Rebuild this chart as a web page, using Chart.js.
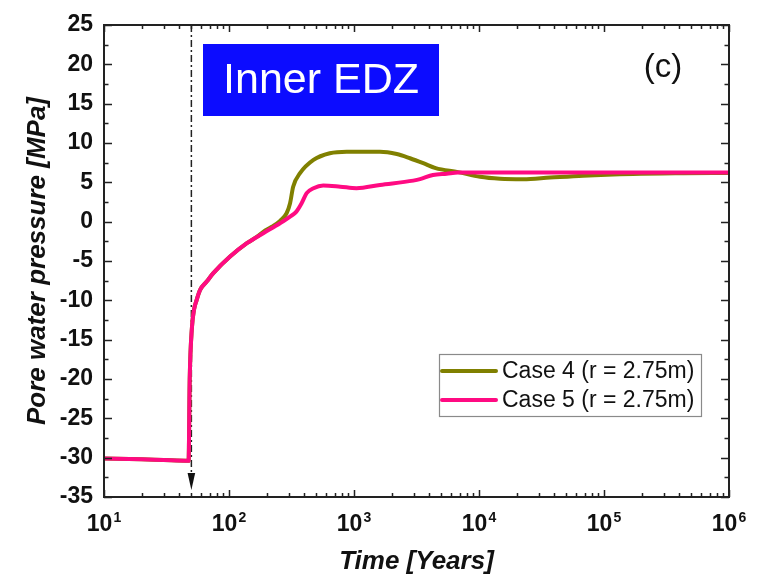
<!DOCTYPE html>
<html>
<head>
<meta charset="utf-8">
<script src="https://cdn.jsdelivr.net/npm/chart.js@4"></script>
<style>
html,body{margin:0;padding:0;background:#fff;}
#wrap{width:774px;height:580px;}
</style>
</head>
<body>
<div id="wrap"><canvas id="c" width="774" height="580"></canvas></div>
<script>
// ---- data ----
const seriesLabels = ['Case 4 (r = 2.75m)', 'Case 5 (r = 2.75m)'];
const case4Time = [10, 20, 30, 47.5, 48.5, 50.5, 52.5, 55, 58.6, 66.3, 74.9, 102, 139, 170, 188, 220, 256, 289, 308, 326, 370, 474, 640, 874, 1614, 2200, 2805, 3581, 4500, 6800, 10190, 14723, 22570, 37000, 68200, 170600, 430000, 1000000];
const case4Pressure = [-30.1, -30.2, -30.3, -30.4, -20, -13.5, -11.2, -10, -8.7, -7.62, -6.55, -4.44, -2.74, -1.85, -1.3, -0.65, 0.1, 1.07, 2.34, 4.45, 6.16, 7.85, 8.7, 8.9, 8.9, 8.6, 8.06, 7.43, 6.8, 6.3, 5.7, 5.45, 5.39, 5.6, 5.85, 6.07, 6.16, 6.2];
const case5Time = [10, 20, 30, 47.5, 48.5, 50.5, 52.5, 55, 58.6, 66.3, 74.9, 102, 139, 188, 256, 308, 346, 381, 418, 474, 567, 776, 1047, 1614, 2978, 3373, 4285, 5515, 6800, 10190, 30000, 100000, 1000000];
const case5Pressure = [-30.1, -30.2, -30.3, -30.4, -20, -13.5, -11.2, -10, -8.7, -7.62, -6.55, -4.44, -2.74, -1.47, -0.2, 0.64, 1.28, 2.34, 3.62, 4.25, 4.6, 4.45, 4.25, 4.67, 5.22, 5.4, 5.94, 6.1, 6.24, 6.24, 6.24, 6.24, 6.24];
const yTickValues = [-35, -30, -25, -20, -15, -10, -5, 0, 5, 10, 15, 20, 25];
const xDecadeExponents = [1, 2, 3, 4, 5, 6];
const excavationTime = 50;
const panelLabel = '(c)';
const zoneLabel = 'Inner EDZ';

const FONT = "'Liberation Sans', Arial, sans-serif";
const colors = ['#808000', '#ff0a82'];

function pts(t, v) { return t.map((x, i) => ({x: x, y: v[i]})); }

const decorPlugin = {
  id: 'decor',
  beforeDatasetsDraw(chart) {
    const ctx = chart.ctx, a = chart.chartArea, xs = chart.scales.x;
    const px = xs.getPixelForValue(excavationTime);
    ctx.save();
    ctx.strokeStyle = '#222';
    ctx.lineWidth = 1.5;
    ctx.setLineDash([7, 3, 2, 3]);
    ctx.beginPath();
    ctx.moveTo(px, a.top);
    ctx.lineTo(px, a.bottom - 20);
    ctx.stroke();
    ctx.setLineDash([]);
    ctx.fillStyle = '#111';
    ctx.beginPath();
    ctx.moveTo(px - 3.8, a.bottom - 24);
    ctx.lineTo(px + 3.8, a.bottom - 24);
    ctx.lineTo(px, a.bottom - 7);
    ctx.closePath();
    ctx.fill();
    ctx.restore();
  },
  afterDraw(chart) {
    const ctx = chart.ctx, a = chart.chartArea, xs = chart.scales.x, ys = chart.scales.y;
    ctx.save();
    // frame
    ctx.strokeStyle = '#222';
    ctx.lineWidth = 2;
    ctx.strokeRect(a.left, a.top, a.right - a.left, a.bottom - a.top);
    ctx.lineWidth = 1.5;
    ctx.beginPath();
    // x ticks (bottom & top, inward)
    for (let e = 1; e <= 6; e++) {
      for (let m = 1; m <= 9; m++) {
        const v = m * Math.pow(10, e);
        if (v > 1e6) break;
        const p = Math.round(xs.getPixelForValue(v)) + 0.5;
        const len = m === 1 ? 7 : 4;
        ctx.moveTo(p, a.bottom); ctx.lineTo(p, a.bottom - len);
        ctx.moveTo(p, a.top); ctx.lineTo(p, a.top + len);
      }
    }
    // y ticks (left & right, inward)
    for (let v = -35; v <= 25; v += 2.5) {
      const p = Math.round(ys.getPixelForValue(v)) + 0.5;
      const len = (Math.abs(v % 5) < 1e-9) ? 8 : 4.5;
      ctx.moveTo(a.left, p); ctx.lineTo(a.left + len, p);
      ctx.moveTo(a.right, p); ctx.lineTo(a.right - len, p);
    }
    ctx.stroke();

    // x tick labels with superscripts
    ctx.fillStyle = '#111';
    ctx.textBaseline = 'alphabetic';
    xDecadeExponents.forEach(e => {
      const p = xs.getPixelForValue(Math.pow(10, e));
      ctx.font = 'bold 23px ' + FONT;
      const w1 = ctx.measureText('10').width;
      ctx.font = 'bold 14px ' + FONT;
      const w2 = ctx.measureText(String(e)).width;
      const x0 = p - (w1 + w2 + 1) / 2;
      ctx.font = 'bold 23px ' + FONT;
      ctx.textAlign = 'left';
      ctx.fillText('10', x0, 531);
      ctx.font = 'bold 14px ' + FONT;
      ctx.fillText(String(e), x0 + w1 + 1, 522);
    });

    // zone label box
    ctx.fillStyle = '#0c0cff';
    ctx.fillRect(203, 44, 236, 72);
    ctx.fillStyle = '#ffffff';
    ctx.font = '43px ' + FONT;
    ctx.textAlign = 'center';
    ctx.textBaseline = 'middle';
    ctx.fillText(zoneLabel, 321, 81);

    // panel label
    ctx.fillStyle = '#111';
    ctx.font = '33px ' + FONT;
    ctx.fillText(panelLabel, 663, 68);

    // legend
    ctx.fillStyle = '#fff';
    ctx.fillRect(439, 354, 262, 62);
    ctx.strokeStyle = '#8a8a8a';
    ctx.lineWidth = 1.2;
    ctx.strokeRect(439.5, 354.5, 262, 62);
    chart.data.datasets.forEach((ds, i) => {
      const y = 371 + i * 29;
      ctx.strokeStyle = ds.borderColor;
      ctx.lineWidth = 4;
      ctx.lineCap = 'round';
      ctx.beginPath();
      ctx.moveTo(442, y); ctx.lineTo(496, y);
      ctx.stroke();
      ctx.fillStyle = '#111';
      ctx.font = '23px ' + FONT;
      ctx.textAlign = 'left';
      ctx.textBaseline = 'middle';
      ctx.fillText(ds.label, 502, y + 1);
    });
    ctx.restore();
  }
};

new Chart(document.getElementById('c'), {
  type: 'line',
  data: {
    datasets: [
      {label: seriesLabels[0], data: pts(case4Time, case4Pressure), borderColor: colors[0], backgroundColor: colors[0],
       borderWidth: 4, pointRadius: 0, cubicInterpolationMode: 'monotone', order: 2},
      {label: seriesLabels[1], data: pts(case5Time, case5Pressure), borderColor: colors[1], backgroundColor: colors[1],
       borderWidth: 4, pointRadius: 0, cubicInterpolationMode: 'monotone', order: 1}
    ]
  },
  options: {
    responsive: false,
    animation: false,
    devicePixelRatio: 1,
    layout: {padding: {top: 25, right: 45, bottom: 0, left: 0}},
    plugins: {legend: {display: false}, tooltip: {enabled: false}},
    scales: {
      x: {
        type: 'logarithmic', min: 10, max: 1000000,
        grid: {display: false}, border: {display: false},
        ticks: {display: false},
        title: {display: true, text: 'Time [Years]', color: '#111',
                font: {family: FONT, size: 26, weight: 'bold', style: 'italic'}, padding: {top: 0, bottom: 3}},
        afterFit(s) { s.height = 83; }
      },
      y: {
        type: 'linear', min: -35, max: 25,
        grid: {display: false, drawTicks: false}, border: {display: false},
        afterBuildTicks(s) { s.ticks = yTickValues.map(v => ({value: v})); },
        ticks: {color: '#111', padding: 11, font: {family: FONT, size: 23, weight: 'bold'}},
        title: {display: true, text: 'Pore water pressure [MPa]', color: '#111',
                font: {family: FONT, size: 26, weight: 'bold', style: 'italic'}, padding: {top: 22, bottom: 0}},
        afterFit(s) { s.width = 104; }
      }
    }
  },
  plugins: [decorPlugin]
});
</script>
</body>
</html>
